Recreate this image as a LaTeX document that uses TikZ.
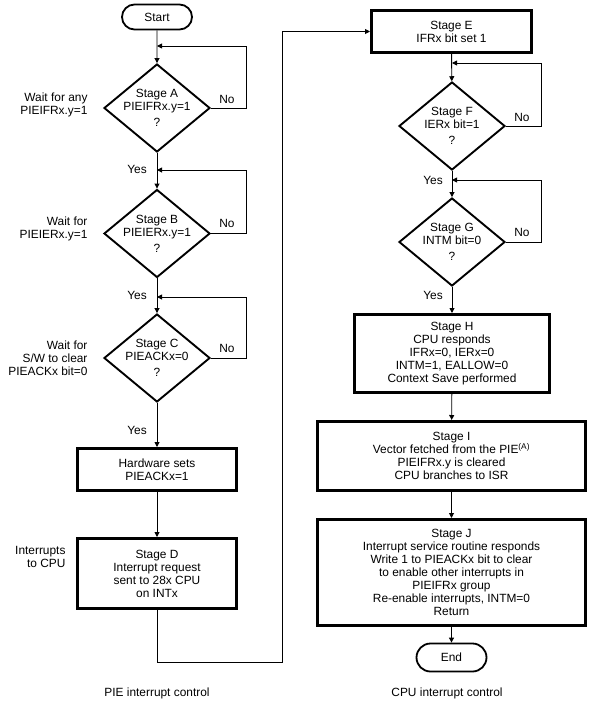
\documentclass[tikz,border=0pt]{standalone}
\usepackage{fontspec}
\setmainfont{Liberation Sans}
\usetikzlibrary{shapes.geometric,shapes.misc,arrows.meta,positioning}

\begin{document}
\begin{tikzpicture}[
    x=1pt, y=-1pt,
    every node/.style={font=\fontsize{11.9}{13}\selectfont},
    term/.style={rounded rectangle, draw, line width=1.8pt, minimum width=70pt, minimum height=25pt, inner sep=0pt},
    decision/.style={diamond, draw, line width=1.9pt, minimum width=106pt, minimum height=88pt, inner sep=-6pt, align=center},
    stagebox/.style={rectangle, draw, line width=3pt, align=center, inner sep=0pt},
    side/.style={align=right, anchor=east},
    arr/.style={-{Triangle[length=5pt,width=5pt]}, line width=0.9pt},
    ln/.style={line width=0.9pt}
]
    \useasboundingbox (0,0) rectangle (604,702);

    % Left column: PIE
    \node[term] (start) at (157,17) {Start};
    \node[decision] (stA) at (157,108) {Stage A\\PIEIFRx.y=1\\[3pt]?};
    \node[decision] (stB) at (157,233.5) {Stage B\\PIEIERx.y=1\\[3pt]?};
    \node[decision] (stC) at (157,358) {Stage C\\PIEACKx=0\\[3pt]?};
    \node[stagebox, minimum width=159pt, minimum height=42pt] (hw) at (157,469.5) {Hardware sets\\PIEACKx=1};
    \node[stagebox, minimum width=159pt, minimum height=70pt] (stD) at (157,573.5) {Stage D\\Interrupt request\\sent to 28x CPU\\on INTx};

    % Right column: CPU
    \node[stagebox, minimum width=160pt, minimum height=42pt] (stE) at (451.5,31.5) {Stage E\\IFRx bit set 1};
    \node[decision] (stF) at (452,126) {Stage F\\IERx bit=1\\[3pt]?};
    \node[decision] (stG) at (452,242) {Stage G\\INTM bit=0\\[3pt]?};
    \node[stagebox, minimum width=195pt, minimum height=78pt] (stH) at (452,353.5) {Stage H\\CPU responds\\IFRx=0, IERx=0\\INTM=1, EALLOW=0\\Context Save performed};
    \node[stagebox, minimum width=268pt, minimum height=69pt] (stI) at (451.5,456) {Stage I\\Vector fetched from the PIE\textsuperscript{(A)}\\PIEIFRx.y is cleared\\CPU branches to ISR};
    \node[stagebox, minimum width=268pt, minimum height=106pt] (stJ) at (451.5,572.5) {Stage J\\Interrupt service routine responds\\Write 1 to PIEACKx bit to clear\\to enable other interrupts in\\PIEIFRx group\\Re-enable interrupts, INTM=0\\Return};
    \node[term, minimum height=28pt] (end) at (451.5,657.5) {End};

    % Side notes
    \node[side] (noteA) at (91,105) {Wait for any\\PIEIFRx.y=1};
    \node[side] (noteB) at (91,229) {Wait for\\PIEIERx.y=1};
    \node[side] (noteC) at (91,358) {Wait for\\S/W to clear\\PIEACKx bit=0};
    \node[side] (noteD) at (69,556.5) {Interrupts\\to CPU};
    \node (capL) at (157,693) {PIE interrupt control};
    \node (capR) at (447,693) {CPU interrupt control};

    % Merge points and loop columns
    \coordinate (mA) at (157,46);
    \coordinate (mB) at (157,170);
    \coordinate (mC) at (157,297);
    \coordinate (mF) at (452,63);
    \coordinate (mG) at (452,180);
    \coordinate (loopL) at (246,0);
    \coordinate (loopR) at (541,0);
    \coordinate (turn) at (282,662);

    % Flow, left
    \draw[arr] (start) -- (stA);
    \draw[arr] (stA) -- (stB);
    \draw[arr] (stB) -- (stC);
    \draw[arr] (stC) -- (hw);
    \draw[arr] (hw) -- (stD);
    \draw[arr] (stD.south) |- (turn) |- (stE.west);

    % Flow, right
    \draw[arr] (stE) -- (stF);
    \draw[arr] (stF) -- (stG);
    \draw[arr] (stG) -- (stH);
    \draw[arr] (stH) -- (stI);
    \draw[arr] (stI) -- (stJ);
    \draw[arr] (stJ) -- (end);

    % No loops
    \draw[arr] (stA.east) -- (stA.east -| loopL) |- (mA);
    \draw[arr] (stB.east) -- (stB.east -| loopL) |- (mB);
    \draw[arr] (stC.east) -- (stC.east -| loopL) |- (mC);
    \draw[arr] (stF.east) -- (stF.east -| loopR) |- (mF);
    \draw[arr] (stG.east) -- (stG.east -| loopR) |- (mG);

    % Yes / No labels
    \node (noA) at (227,99) {No};
    \node (noB) at (227,223) {No};
    \node (noC) at (227,348) {No};
    \node (noF) at (522,117) {No};
    \node (noG) at (522,232) {No};
    \node (yesA) at (137,169) {Yes};
    \node (yesB) at (137,295) {Yes};
    \node (yesC) at (137,430) {Yes};
    \node (yesF) at (433,180) {Yes};
    \node (yesG) at (433,295) {Yes};
\end{tikzpicture}
\end{document}
